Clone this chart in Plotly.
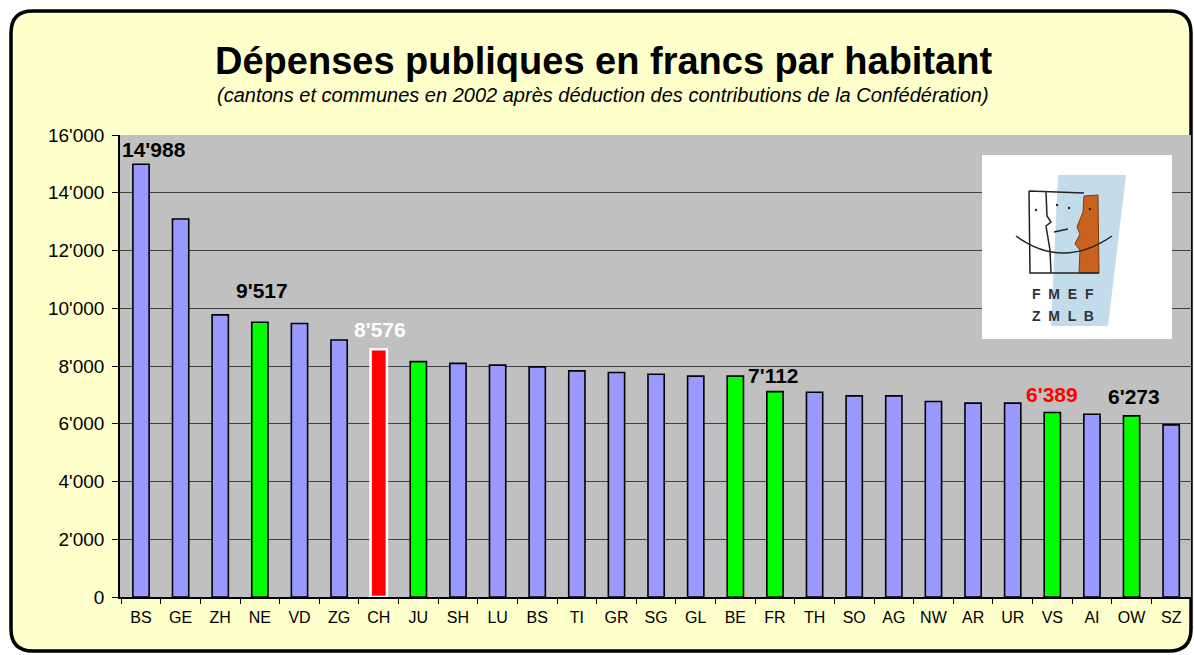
import plotly.graph_objects as go

# ------------------------------------------------------------------
# Data: public spending per inhabitant (CHF), cantons + communes 2002
# ------------------------------------------------------------------
cantons = ["BS", "GE", "ZH", "NE", "VD", "ZG", "CH", "JU", "SH", "LU", "BS", "TI", "GR", "SG",
           "GL", "BE", "FR", "TH", "SO", "AG", "NW", "AR", "UR", "VS", "AI", "OW", "SZ"]
spending = [14988, 13090, 9770, 9517, 9470, 8900, 8576, 8150, 8090, 8030, 7970, 7830, 7775, 7715,
            7650, 7650, 7112, 7090, 6965, 6965, 6770, 6715, 6715, 6389, 6330, 6273, 5960]
groups = ["other", "other", "other", "fmef", "other", "other", "ch", "fmef", "other", "other",
          "other", "other", "other", "other", "other", "fmef", "fmef", "other", "other", "other",
          "other", "other", "other", "fmef", "other", "fmef", "other"]
labelled = ["BS", "NE", "CH", "FR", "VS", "OW"]
y_ticks = [0, 2000, 4000, 6000, 8000, 10000, 12000, 14000, 16000]

# --- style ---
FONT = "Arial, Liberation Sans, sans-serif"
YELLOW = "#FFFFCC"
GREY = "#C0C0C0"
FILL = {"other": "#9999FF", "fmef": "#00FF00", "ch": "#FF0000"}
EDGE = {"other": "black", "fmef": "black", "ch": "white"}

W, H = 1194, 655
M = dict(l=120, r=3, t=135, b=58)
PW, PH = W - M["l"] - M["r"], H - M["t"] - M["b"]


def px(x):
    # screen pixel -> paper fraction
    return (x - M["l"]) / PW


def py(y):
    return (H - M["b"] - y) / PH


# unique keys so the two "BS" bars stay separate
keys = [f"{c}_{i}" for i, c in enumerate(cantons)]

fig = go.Figure()
fig.add_trace(go.Bar(
    x=keys, y=spending,
    width=0.41,
    marker=dict(color=[FILL[g] for g in groups],
                line=dict(color=[EDGE[g] for g in groups], width=[2.5 if g == "ch" else 1.6 for g in groups])),
    hoverinfo="x+y",
))

# value labels on some bars
label_style = {
    "BS": dict(color="black", yshift=15, xshift=13),
    "NE": dict(color="black", yshift=32, xshift=2),
    "CH": dict(color="white", yshift=20, xshift=1),
    "FR": dict(color="black", yshift=16, xshift=-1),
    "VS": dict(color="#FF0000", yshift=18, xshift=0),
    "OW": dict(color="black", yshift=19, xshift=2),
}
done = set()
for k, c, v in zip(keys, cantons, spending):
    if c in labelled and c not in done:
        done.add(c)
        s = label_style[c]
        fig.add_annotation(x=k, y=v, xref="x", yref="y", text=f"<b>{v:,}</b>".replace(",", "'"),
                           showarrow=False, xanchor="center", yanchor="middle",
                           yshift=s["yshift"], xshift=s["xshift"],
                           font=dict(family=FONT, size=21, color=s["color"]))

# rounded yellow frame
x0, x1, y0, y1, r = px(11), px(1191), py(11), py(651), 22
rx, ry = r / PW, r / PH
frame = (f"M {x0 + rx},{y0} L {x1 - rx},{y0} Q {x1},{y0} {x1},{y0 - ry} "
         f"L {x1},{y1 + ry} Q {x1},{y1} {x1 - rx},{y1} "
         f"L {x0 + rx},{y1} Q {x0},{y1} {x0},{y1 + ry} "
         f"L {x0},{y0 - ry} Q {x0},{y0} {x0 + rx},{y0} Z")
fig.add_shape(type="path", path=frame, xref="paper", yref="paper", layer="below",
              fillcolor=YELLOW, line=dict(color="black", width=3.5))
fig.add_shape(type="rect", xref="x domain", yref="y domain", x0=0, x1=1, y0=0, y1=1,
              layer="below", fillcolor=GREY, line_width=0)

# logo (FMEF / ZMLB) sketched with shapes
fig.add_shape(type="rect", xref="paper", yref="paper", x0=px(982), x1=px(1172), y0=py(339), y1=py(155),
              fillcolor="white", line_width=0, layer="above")


def poly(points):
    return "M " + " L ".join(f"{px(a)},{py(b)}" for a, b in points) + " Z"


fig.add_shape(type="path", xref="paper", yref="paper", layer="above", line_width=0, fillcolor="#C3DCEB",
              path=poly([(1058, 175), (1126, 175), (1108, 326), (1051, 326)]))
fig.add_shape(type="path", xref="paper", yref="paper", layer="above", line=dict(color="#7A3A10", width=1),
              fillcolor="#C8621E",
              path=poly([(1084, 196), (1098, 195), (1099, 273), (1079, 273), (1080, 250), (1075, 244),
                         (1080, 234), (1077, 227), (1083, 212)]))
fig.add_shape(type="path", xref="paper", yref="paper", layer="above", line=dict(color="#222", width=1.5),
              path=f"M {px(1029)},{py(191)} L {px(1084)},{py(193)} M {px(1029)},{py(191)} L {px(1030)},{py(273)} "
                   f"L {px(1099)},{py(273)} M {px(1046)},{py(192)} L {px(1047)},{py(216)} L {px(1051)},{py(222)} "
                   f"L {px(1046)},{py(226)} L {px(1050)},{py(250)} L {px(1051)},{py(273)} "
                   f"M {px(1054)},{py(232)} L {px(1068)},{py(229)}")
fig.add_shape(type="path", xref="paper", yref="paper", layer="above", line=dict(color="#222", width=1.5),
              path=f"M {px(1016)},{py(236)} Q {px(1063)},{py(270)} {px(1112)},{py(236)}")
for ex, ey in [(1036, 210), (1057, 205), (1069, 208), (1090, 209)]:
    fig.add_shape(type="circle", xref="paper", yref="paper", layer="above",
                  x0=px(ex - 1.2), x1=px(ex + 1.2), y0=py(ey + 1.2), y1=py(ey - 1.2),
                  fillcolor="#222", line_width=0)
for txt, yy in [("F  M  E  F", 294), ("Z  M  L  B", 316)]:
    fig.add_annotation(x=px(1063), y=py(yy), xref="paper", yref="paper", text=f"<b>{txt}</b>",
                       showarrow=False, xanchor="center", yanchor="middle",
                       font=dict(family=FONT, size=14, color="#333333"))

# titles
fig.add_annotation(x=px(603), y=py(61), xref="paper", yref="paper", showarrow=False,
                   xanchor="center", yanchor="middle",
                   text="<b>Dépenses publiques en francs par habitant</b>",
                   font=dict(family=FONT, size=38, color="black"))
fig.add_annotation(x=px(603), y=py(95), xref="paper", yref="paper", showarrow=False,
                   xanchor="center", yanchor="middle",
                   text="<i>(cantons et communes en 2002 après déduction des contributions de la Confédération)</i>",
                   font=dict(family=FONT, size=20, color="black"))

fig.update_layout(
    width=W, height=H,
    margin=dict(M, pad=0),
    paper_bgcolor="white",
    plot_bgcolor=GREY,
    separators=".'",
    showlegend=False,
    font=dict(family=FONT, color="black"),
)
fig.update_xaxes(
    type="category", tickmode="array", tickvals=keys, ticktext=cantons,
    ticks="outside", tickson="boundaries", ticklen=5, tickcolor="black",
    showline=True, linecolor="black", linewidth=1.5, ticklabelstandoff=5,
    showgrid=False, tickfont=dict(family=FONT, size=16, color="black"),
)
fig.update_yaxes(
    range=[0, 16000], tickvals=y_ticks, tickformat=",d",
    ticks="outside", ticklen=6, tickcolor="black",
    showline=True, linecolor="black", linewidth=1.5, ticklabelstandoff=4,
    gridcolor="#404040", gridwidth=1, zeroline=False,
    tickfont=dict(family=FONT, size=19, color="black"),
)

# the page body has a default 8px margin; drop it so the figure fills the window
fig.write_html("out.html", config={"displayModeBar": False},
               post_script="document.body.style.margin='0';")
